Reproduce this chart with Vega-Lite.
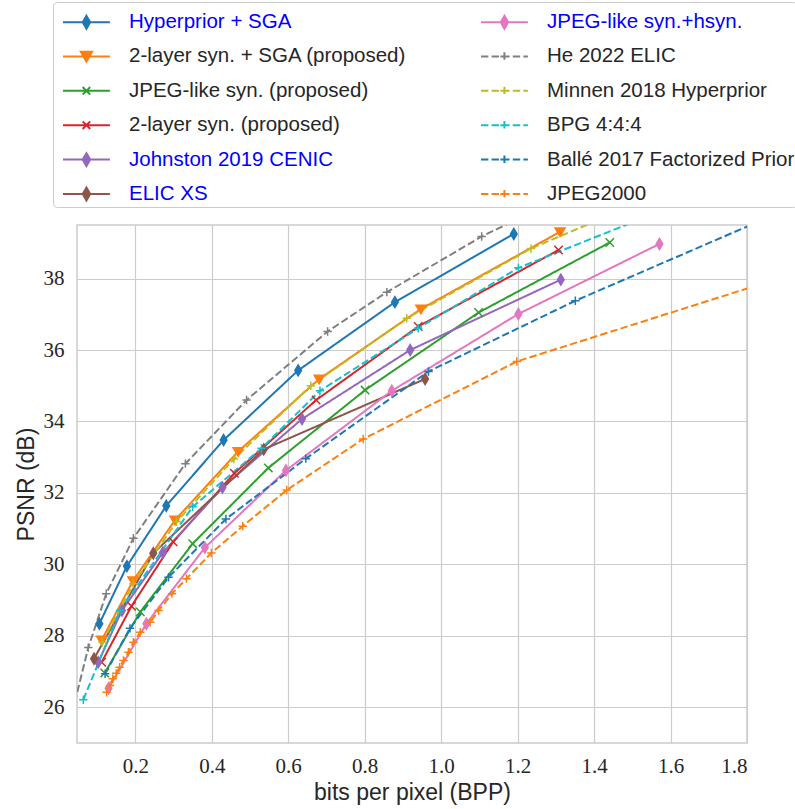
{
  "$schema": "https://vega.github.io/schema/vega-lite/v6.json",
  "autosize": "none",
  "width": 670,
  "height": 518,
  "padding": {"left": 77, "top": 225, "right": 48, "bottom": 66},
  "background": "white",
  "data": {"values": [
    {"s": "Hyperprior + SGA", "x": 0.106, "y": 28.34},
    {"s": "Hyperprior + SGA", "x": 0.178, "y": 29.95},
    {"s": "Hyperprior + SGA", "x": 0.281, "y": 31.64},
    {"s": "Hyperprior + SGA", "x": 0.431, "y": 33.48},
    {"s": "Hyperprior + SGA", "x": 0.626, "y": 35.43},
    {"s": "Hyperprior + SGA", "x": 0.879, "y": 37.34},
    {"s": "Hyperprior + SGA", "x": 1.190, "y": 39.25},
    {"s": "2-layer syn. + SGA (proposed)", "x": 0.112, "y": 27.88},
    {"s": "2-layer syn. + SGA (proposed)", "x": 0.194, "y": 29.54},
    {"s": "2-layer syn. + SGA (proposed)", "x": 0.304, "y": 31.24},
    {"s": "2-layer syn. + SGA (proposed)", "x": 0.469, "y": 33.16},
    {"s": "2-layer syn. + SGA (proposed)", "x": 0.681, "y": 35.19},
    {"s": "2-layer syn. + SGA (proposed)", "x": 0.947, "y": 37.15},
    {"s": "2-layer syn. + SGA (proposed)", "x": 1.311, "y": 39.31},
    {"s": "JPEG-like syn. (proposed)", "x": 0.120, "y": 26.96},
    {"s": "JPEG-like syn. (proposed)", "x": 0.213, "y": 28.67},
    {"s": "JPEG-like syn. (proposed)", "x": 0.350, "y": 30.58},
    {"s": "JPEG-like syn. (proposed)", "x": 0.548, "y": 32.70},
    {"s": "JPEG-like syn. (proposed)", "x": 0.801, "y": 34.88},
    {"s": "JPEG-like syn. (proposed)", "x": 1.098, "y": 37.05},
    {"s": "JPEG-like syn. (proposed)", "x": 1.441, "y": 39.01},
    {"s": "2-layer syn. (proposed)", "x": 0.112, "y": 27.26},
    {"s": "2-layer syn. (proposed)", "x": 0.190, "y": 28.83},
    {"s": "2-layer syn. (proposed)", "x": 0.299, "y": 30.63},
    {"s": "2-layer syn. (proposed)", "x": 0.459, "y": 32.55},
    {"s": "2-layer syn. (proposed)", "x": 0.673, "y": 34.60},
    {"s": "2-layer syn. (proposed)", "x": 0.940, "y": 36.66},
    {"s": "2-layer syn. (proposed)", "x": 1.307, "y": 38.80},
    {"s": "Johnston 2019 CENIC", "x": 0.103, "y": 27.26},
    {"s": "Johnston 2019 CENIC", "x": 0.165, "y": 28.71},
    {"s": "Johnston 2019 CENIC", "x": 0.272, "y": 30.33},
    {"s": "Johnston 2019 CENIC", "x": 0.428, "y": 32.15},
    {"s": "Johnston 2019 CENIC", "x": 0.636, "y": 34.07},
    {"s": "Johnston 2019 CENIC", "x": 0.919, "y": 36.00},
    {"s": "Johnston 2019 CENIC", "x": 1.313, "y": 37.97},
    {"s": "ELIC XS", "x": 0.092, "y": 27.36},
    {"s": "ELIC XS", "x": 0.247, "y": 30.31},
    {"s": "ELIC XS", "x": 0.536, "y": 33.22},
    {"s": "ELIC XS", "x": 0.958, "y": 35.19},
    {"s": "JPEG-like syn.+hsyn.", "x": 0.130, "y": 26.53},
    {"s": "JPEG-like syn.+hsyn.", "x": 0.229, "y": 28.34},
    {"s": "JPEG-like syn.+hsyn.", "x": 0.382, "y": 30.47},
    {"s": "JPEG-like syn.+hsyn.", "x": 0.594, "y": 32.63},
    {"s": "JPEG-like syn.+hsyn.", "x": 0.871, "y": 34.86},
    {"s": "JPEG-like syn.+hsyn.", "x": 1.202, "y": 37.01},
    {"s": "JPEG-like syn.+hsyn.", "x": 1.571, "y": 38.97},
    {"s": "He 2022 ELIC", "x": 0.035, "y": 25.85},
    {"s": "He 2022 ELIC", "x": 0.077, "y": 27.67},
    {"s": "He 2022 ELIC", "x": 0.124, "y": 29.18},
    {"s": "He 2022 ELIC", "x": 0.195, "y": 30.73},
    {"s": "He 2022 ELIC", "x": 0.331, "y": 32.82},
    {"s": "He 2022 ELIC", "x": 0.491, "y": 34.60},
    {"s": "He 2022 ELIC", "x": 0.703, "y": 36.52},
    {"s": "He 2022 ELIC", "x": 0.858, "y": 37.62},
    {"s": "He 2022 ELIC", "x": 1.106, "y": 39.18},
    {"s": "He 2022 ELIC", "x": 1.400, "y": 40.70},
    {"s": "Minnen 2018 Hyperprior", "x": 0.114, "y": 27.82},
    {"s": "Minnen 2018 Hyperprior", "x": 0.195, "y": 29.46},
    {"s": "Minnen 2018 Hyperprior", "x": 0.308, "y": 31.19},
    {"s": "Minnen 2018 Hyperprior", "x": 0.458, "y": 32.95},
    {"s": "Minnen 2018 Hyperprior", "x": 0.659, "y": 35.00},
    {"s": "Minnen 2018 Hyperprior", "x": 0.910, "y": 36.89},
    {"s": "Minnen 2018 Hyperprior", "x": 1.235, "y": 38.84},
    {"s": "Minnen 2018 Hyperprior", "x": 1.600, "y": 40.50},
    {"s": "BPG 4:4:4", "x": 0.064, "y": 26.21},
    {"s": "BPG 4:4:4", "x": 0.160, "y": 28.71},
    {"s": "BPG 4:4:4", "x": 0.350, "y": 31.61},
    {"s": "BPG 4:4:4", "x": 0.530, "y": 33.25},
    {"s": "BPG 4:4:4", "x": 0.683, "y": 34.86},
    {"s": "BPG 4:4:4", "x": 0.940, "y": 36.61},
    {"s": "BPG 4:4:4", "x": 1.202, "y": 38.30},
    {"s": "BPG 4:4:4", "x": 1.600, "y": 40.00},
    {"s": "Ballé 2017 Factorized Prior", "x": 0.121, "y": 26.94},
    {"s": "Ballé 2017 Factorized Prior", "x": 0.186, "y": 28.21},
    {"s": "Ballé 2017 Factorized Prior", "x": 0.287, "y": 29.64},
    {"s": "Ballé 2017 Factorized Prior", "x": 0.437, "y": 31.27},
    {"s": "Ballé 2017 Factorized Prior", "x": 0.646, "y": 32.96},
    {"s": "Ballé 2017 Factorized Prior", "x": 0.967, "y": 35.40},
    {"s": "Ballé 2017 Factorized Prior", "x": 1.351, "y": 37.38},
    {"s": "Ballé 2017 Factorized Prior", "x": 1.950, "y": 40.15},
    {"s": "JPEG2000", "x": 0.125, "y": 26.42},
    {"s": "JPEG2000", "x": 0.134, "y": 26.61},
    {"s": "JPEG2000", "x": 0.141, "y": 26.80},
    {"s": "JPEG2000", "x": 0.150, "y": 26.95},
    {"s": "JPEG2000", "x": 0.159, "y": 27.12},
    {"s": "JPEG2000", "x": 0.169, "y": 27.31},
    {"s": "JPEG2000", "x": 0.182, "y": 27.54},
    {"s": "JPEG2000", "x": 0.195, "y": 27.82},
    {"s": "JPEG2000", "x": 0.213, "y": 28.10},
    {"s": "JPEG2000", "x": 0.239, "y": 28.38},
    {"s": "JPEG2000", "x": 0.261, "y": 28.71},
    {"s": "JPEG2000", "x": 0.296, "y": 29.18},
    {"s": "JPEG2000", "x": 0.334, "y": 29.60},
    {"s": "JPEG2000", "x": 0.399, "y": 30.32},
    {"s": "JPEG2000", "x": 0.481, "y": 31.07},
    {"s": "JPEG2000", "x": 0.596, "y": 32.08},
    {"s": "JPEG2000", "x": 0.796, "y": 33.51},
    {"s": "JPEG2000", "x": 1.198, "y": 35.68},
    {"s": "JPEG2000", "x": 2.000, "y": 38.40}
  ]},
  "encoding": {
    "x": {"field": "x", "type": "quantitative", "scale": {"domain": [0.0475, 1.8], "nice": false, "zero": false},
      "axis": {"values": [0.2, 0.4, 0.6, 0.8, 1.0, 1.2, 1.4, 1.6, 1.8], "format": ".1f", "labelPadding": 12, "title": "bits per pixel (BPP)", "titlePadding": 5}},
    "y": {"field": "y", "type": "quantitative", "scale": {"domain": [25, 39.5], "nice": false, "zero": false},
      "axis": {"values": [26, 28, 30, 32, 34, 36, 38], "format": "d", "labelPadding": 13, "title": "PSNR (dB)", "titlePadding": 5}}
  },
  "layer": [
    {
      "mark": {"type": "line", "clip": true, "strokeWidth": 2},
      "encoding": {
        "color": {"field": "s", "type": "nominal",
          "scale": {
            "domain": ["Hyperprior + SGA", "2-layer syn. + SGA (proposed)", "JPEG-like syn. (proposed)", "2-layer syn. (proposed)", "Johnston 2019 CENIC", "ELIC XS", "JPEG-like syn.+hsyn.", "He 2022 ELIC", "Minnen 2018 Hyperprior", "BPG 4:4:4", "Ballé 2017 Factorized Prior", "JPEG2000"],
            "range": ["#1f77b4", "#ff7f0e", "#2ca02c", "#d62728", "#9467bd", "#8c564b", "#e377c2", "#7f7f7f", "#bcbd22", "#17becf", "#1f77b4", "#ff7f0e"]
          },
          "legend": {
            "orient": "none", "legendX": -24, "legendY": -223,
            "columns": 2, "columnPadding": 66, "rowPadding": 5.4,
            "title": null,
            "symbolSize": 1156, "symbolStrokeWidth": 2,
            "labelFont": "Liberation Sans", "labelFontSize": 20.5, "labelLimit": 600, "labelOffset": 38,
            "padding": 2, "fillColor": "rgba(255,255,255,0.8)", "strokeColor": "#cccccc", "cornerRadius": 4,
            "encode": {
              "labels": {"update": {"fill": [{"test": "indexof(['Hyperprior + SGA','Johnston 2019 CENIC','ELIC XS','JPEG-like syn.+hsyn.'], datum.label) >= 0", "value": "#0000ff"}, {"value": "#262626"}]}},
              "symbols": {"update": {
                "shape": {"signal": "indexof(['Hyperprior + SGA','Johnston 2019 CENIC','ELIC XS','JPEG-like syn.+hsyn.'], datum.value) >= 0 ? 'M-0.59,0H2.17M0.79,-0.38L1.01,0L0.79,0.38L0.57,0Z' : datum.value === '2-layer syn. + SGA (proposed)' ? 'M-0.59,0H2.17M0.46,-0.27L1.12,-0.27L0.79,0.3Z' : (datum.value === 'JPEG-like syn. (proposed)' || datum.value === '2-layer syn. (proposed)') ? 'M-0.59,0H2.17M0.57,-0.22L1.01,0.22M0.57,0.22L1.01,-0.22' : 'M-0.59,0H2.17M0.79,-0.24V0.24M0.55,0H1.03'"},
                "strokeDash": {"signal": "indexof(['He 2022 ELIC','Minnen 2018 Hyperprior','BPG 4:4:4','Ballé 2017 Factorized Prior','JPEG2000'], datum.value) >= 0 ? [7.4, 3.2] : [1, 0]"},
                "fill": {"scale": "color", "field": "value"},
                "stroke": {"scale": "color", "field": "value"},
                "strokeWidth": {"value": 2},
                "opacity": {"value": 1}
              }}
            }
          }
        },
        "strokeDash": {"field": "s", "type": "nominal", "legend": null,
          "scale": {
            "domain": ["JPEG2000", "Ballé 2017 Factorized Prior", "BPG 4:4:4", "Minnen 2018 Hyperprior", "He 2022 ELIC", "JPEG-like syn.+hsyn.", "ELIC XS", "Johnston 2019 CENIC", "2-layer syn. (proposed)", "JPEG-like syn. (proposed)", "2-layer syn. + SGA (proposed)", "Hyperprior + SGA"],
            "range": [[7.4, 3.2], [7.4, 3.2], [7.4, 3.2], [7.4, 3.2], [7.4, 3.2], [1, 0], [1, 0], [1, 0], [1, 0], [1, 0], [1, 0], [1, 0]]
          }
        }
      }
    },
    {
      "mark": {"type": "point", "clip": true, "filled": true, "size": 36, "strokeWidth": 1.5, "opacity": 1},
      "encoding": {
        "fill": {"field": "s", "type": "nominal", "legend": null,
          "scale": {
            "domain": ["Hyperprior + SGA", "JPEG-like syn.+hsyn.", "2-layer syn. + SGA (proposed)", "He 2022 ELIC", "JPEG-like syn. (proposed)", "Minnen 2018 Hyperprior", "2-layer syn. (proposed)", "BPG 4:4:4", "Johnston 2019 CENIC", "Ballé 2017 Factorized Prior", "ELIC XS", "JPEG2000"],
            "range": ["#1f77b4", "#e377c2", "#ff7f0e", "#7f7f7f", "#2ca02c", "#bcbd22", "#d62728", "#17becf", "#9467bd", "#1f77b4", "#8c564b", "#ff7f0e"]
          }
        },
        "stroke": {"field": "s", "type": "nominal", "legend": null,
          "scale": {
            "domain": ["JPEG-like syn.+hsyn.", "Hyperprior + SGA", "He 2022 ELIC", "2-layer syn. + SGA (proposed)", "Minnen 2018 Hyperprior", "JPEG-like syn. (proposed)", "BPG 4:4:4", "2-layer syn. (proposed)", "Ballé 2017 Factorized Prior", "Johnston 2019 CENIC", "JPEG2000", "ELIC XS"],
            "range": ["#e377c2", "#1f77b4", "#7f7f7f", "#ff7f0e", "#bcbd22", "#2ca02c", "#17becf", "#d62728", "#1f77b4", "#9467bd", "#ff7f0e", "#8c564b"]
          }
        },
        "shape": {"field": "s", "type": "nominal", "legend": null,
          "scale": {
            "domain": ["2-layer syn. + SGA (proposed)", "Hyperprior + SGA", "JPEG-like syn. (proposed)", "2-layer syn. (proposed)", "Johnston 2019 CENIC", "ELIC XS", "JPEG-like syn.+hsyn.", "He 2022 ELIC", "Minnen 2018 Hyperprior", "BPG 4:4:4", "Ballé 2017 Factorized Prior", "JPEG2000"],
            "range": [
              "M-1.67,-1.25L1.67,-1.25L0,1.58Z",
              "M0,-1.83L1.1,0L0,1.83L-1.1,0Z",
              "M-1.4,-1.4L1.4,1.4M-1.4,1.4L1.4,-1.4",
              "M-1.4,-1.4L1.4,1.4M-1.4,1.4L1.4,-1.4",
              "M0,-1.83L1.1,0L0,1.83L-1.1,0Z",
              "M0,-1.83L1.1,0L0,1.83L-1.1,0Z",
              "M0,-1.83L1.1,0L0,1.83L-1.1,0Z",
              "M-1.4,0H1.4M0,-1.4V1.4",
              "M-1.4,0H1.4M0,-1.4V1.4",
              "M-1.4,0H1.4M0,-1.4V1.4",
              "M-1.4,0H1.4M0,-1.4V1.4",
              "M-1.4,0H1.4M0,-1.4V1.4"
            ]
          }
        }
      }
    }
  ],
  "config": {
    "view": {"stroke": "#cccccc", "strokeWidth": 1.5},
    "axis": {"grid": true, "gridColor": "#cccccc", "gridWidth": 1.2, "domain": false, "ticks": false,
      "labelFont": "Liberation Serif", "labelFontSize": 21, "labelColor": "#262626",
      "titleFont": "Liberation Sans", "titleFontSize": 23, "titleFontWeight": "normal", "titleColor": "#262626"}
  }
}
